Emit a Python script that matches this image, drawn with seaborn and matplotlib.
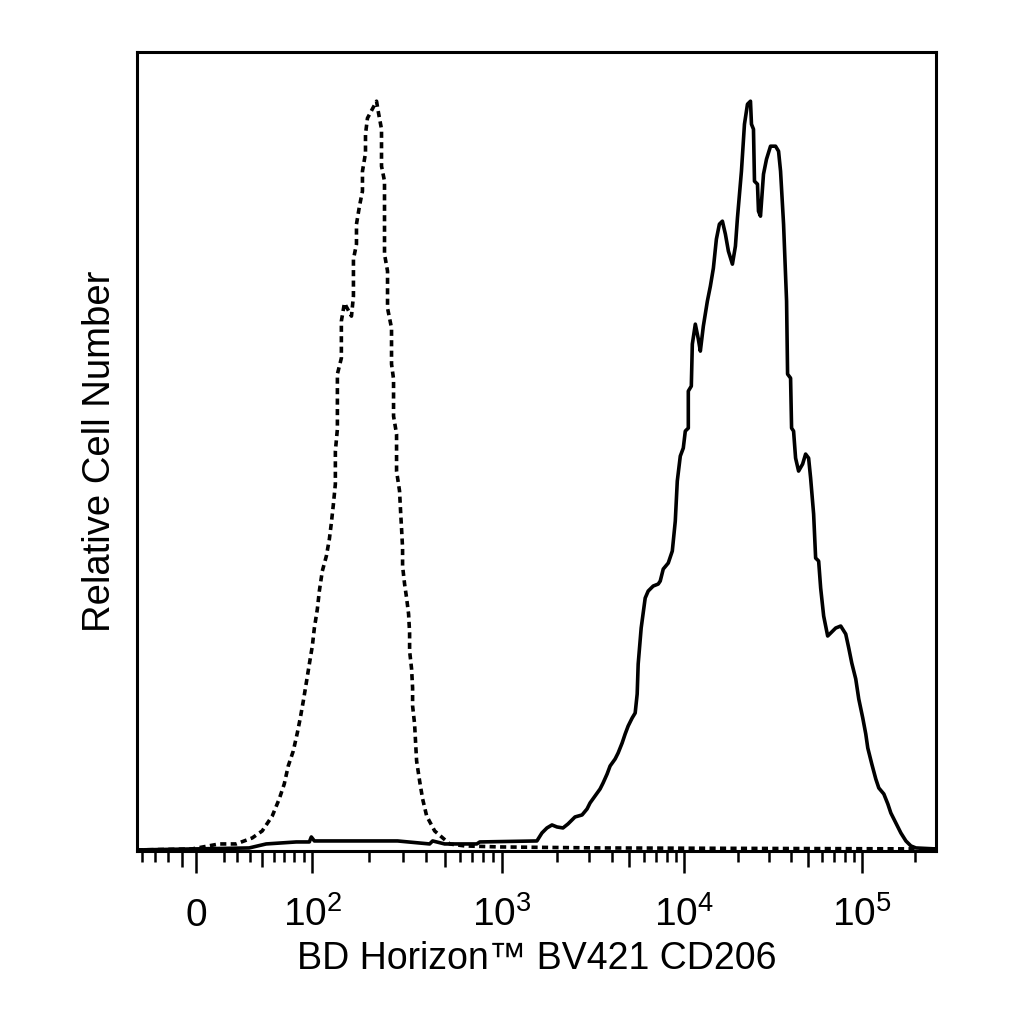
import numpy as np
import pandas as pd
import seaborn as sns
import matplotlib.pyplot as plt

# ---- data (intensity, relative count) ----
iso_x = [-44.1, -2.8, 16.5, 29.1, 41.7, 50.0, 58.8, 65.2, 70.0, 73.9, 79.0, 83.2, 86.4, 89.7,
         93.0, 96.5, 100, 102.5, 106.3, 108.9, 112.9, 118.6, 123.0, 126.0, 129.2, 132.3, 132.3,
         135.6, 135.6, 142.3, 142.3, 147.7, 160.9, 164.8, 164.8, 171.0, 171.0, 177.3, 183.9,
         183.9, 190.8, 190.8, 195.4, 218.2, 223.6, 231.8, 231.8, 240.4, 240.4, 249.4, 249.4,
         261.8, 261.8, 268.3, 268.3, 278.3, 278.3, 288.6, 292.2, 295.8, 299.4, 299.4, 306.8,
         314.4, 322.1, 326.1, 326.1, 334.1, 338.2, 338.2, 346.5, 350.8, 355.1, 368.3, 382.0,
         401.1, 442.2, 530.8, 637.2, 975.9, 3455, 262000]
iso_y = [1, 2, 7, 7, 13, 20, 35, 52, 67, 85, 100, 118, 133, 150,
         168, 187, 205, 223, 242, 260, 280, 295, 312, 328, 347, 367, 400,
         422, 477, 493, 530, 548, 535, 555, 592, 607, 627, 645, 660,
         680, 698, 717, 733, 750, 738, 722, 685, 670, 597, 580, 543,
         523, 487, 472, 435, 417, 380, 360, 340, 322, 303, 285, 267,
         253, 237, 218, 200, 182, 163, 145, 127, 108, 90, 70, 52,
         35, 20, 7, 5, 4, 3, 2]

cd206_x = [-44.1, -2.8, 39.2, 53.4, 82.1, 96.5, 98.8, 102.5, 281.7, 415.9, 431.4, 499.3, 737.6,
           764.9, 1557, 1659, 1767, 1883, 2005, 2163, 2304, 2518, 2752, 2931, 3044, 3243, 3455,
           3589, 3776, 3921, 4177, 4339, 4564, 4741, 4925, 5179, 5380, 5518, 5588, 5803, 6105,
           6341, 6754, 7197, 7381, 7667, 8167, 8595, 8925, 9153, 9507, 9874, 10131, 10534,
           10534, 10953, 11097, 11536, 11997, 12313, 12803, 13489, 14026, 14584, 15163, 15766,
           16393, 17044, 17722, 18668, 19411, 19924, 20989, 21827, 22697, 23600, 23906, 24536,
           24857, 25842, 26182, 26873, 27941, 29053, 30612, 32670, 33972, 34867, 36254, 37698,
           38193, 39707, 40227, 41285, 42372, 44058, 46416, 48254, 50177, 51500, 53550, 54963,
           57154, 58665, 61000, 64256, 66818, 71314, 76110, 81212, 84464, 87836, 92497, 96180,
           101300, 105340, 108110, 113880, 119960, 124740, 133140, 140250, 145810, 155640,
           166090, 177300, 189200, 201900, 262000]
cd206_y = [1, 2, 3, 7, 9, 9, 14, 10, 10, 7, 10, 7, 7,
           9, 10, 18, 23, 26, 24, 23, 27, 34, 36, 42, 48, 55, 62,
           68, 77, 85, 92, 98, 108, 117, 125, 133, 138, 157, 187, 223, 253,
           260, 265, 267, 270, 282, 288, 300, 330, 370, 395, 403, 420, 423,
           460, 465, 507, 527, 512, 500, 525, 550, 565, 583, 612, 627,
           630, 617, 600, 587, 605, 633, 680, 727, 747, 750, 727, 722,
           670, 667, 640, 635, 677, 692, 705, 705, 700, 680, 627, 550,
           477, 473, 423, 420, 393, 380, 387, 397, 393, 373, 337, 293,
           290, 263, 235, 215, 218, 223, 225, 217, 203, 188, 172, 152,
           133, 117, 103, 87, 72, 63, 57, 47, 38, 28,
           18, 10, 5, 3, 2]

major_ticks = [0, 1e2, 1e3, 1e4, 1e5]
major_labels = ['0', r'$\mathregular{10^2}$', r'$\mathregular{10^3}$',
                r'$\mathregular{10^4}$', r'$\mathregular{10^5}$']
minor_ticks = [-40, -30, -20, -10, 20, 30, 40, 50, 60, 70, 80, 90,
               200, 300, 400, 500, 600, 700, 800, 900,
               2000, 3000, 4000, 5000, 6000, 7000, 8000, 9000,
               20000, 30000, 40000, 50000, 60000, 70000, 80000, 90000, 200000]
mid_ticks = [-10, 50, 500, 5000, 50000]

# ---- biexponential-like display scale (linear-ish near 0, log above 100) ----
DEC_EXP = [2, 3, 4, 5, 6]
DEC_POS = [313, 502, 684, 861, 1038]

def fwd(x):
    x = np.asarray(x, dtype=float)
    lin = 197 + 105.6 * np.arcsinh(x / 75.0)
    lg = np.interp(np.log10(np.clip(x, 100, None)), DEC_EXP, DEC_POS)
    return np.where(x < 100, lin, lg)

def inv(p):
    p = np.asarray(p, dtype=float)
    lin = 75.0 * np.sinh((np.clip(p, -500, 313) - 197) / 105.6)
    lg = 10 ** np.interp(p, DEC_POS, DEC_EXP)
    return np.where(p < 313, lin, lg)

df = pd.concat([
    pd.DataFrame({'intensity': iso_x, 'count': iso_y, 'sample': 'Isotype'}),
    pd.DataFrame({'intensity': cd206_x, 'count': cd206_y, 'sample': 'CD206'}),
])

sns.set_theme(style='white')
plt.rcParams['font.family'] = ['Liberation Sans', 'DejaVu Sans']
plt.rcParams['mathtext.fontset'] = 'custom'
plt.rcParams['mathtext.rm'] = 'Liberation Sans'

fig = plt.figure(figsize=(10.24, 10.24), dpi=100)
ax = fig.add_axes([0.1338, 0.169, 0.7803, 0.780])
ax.set_xscale('function', functions=(fwd, inv))

sns.lineplot(data=df, x='intensity', y='count', style='sample',
             dashes={'Isotype': (1.7, 1.2), 'CD206': ''}, color='black',
             sort=False, estimator=None, linewidth=2.6, legend=False, ax=ax)
for ln in ax.lines:
    ln.set_linewidth(2.6)

ax.set_xlim(-44, 262144)
ax.set_ylim(0, 799)

for s in ax.spines.values():
    s.set_linewidth(2.2)
    s.set_color('black')

ax.set_yticks([])
ax.set_xticks(major_ticks)
ax.set_xticklabels(major_labels)
ax.set_xticks(minor_ticks, minor=True)
ax.tick_params(axis='x', which='major', direction='out', length=16, width=1.8,
               color='black', labelcolor='black', labelsize=28, pad=38, bottom=True)
ax.tick_params(axis='x', which='minor', direction='out', length=8, width=1.8,
               color='black', bottom=True)
for lab in ax.get_xticklabels():
    lab.set_va('baseline')
for loc, tk in zip(minor_ticks, ax.xaxis.get_minor_ticks(len(minor_ticks))):
    if loc in mid_ticks:
        tk.tick1line.set_markersize(11.5)

ax.set_xlabel('BD Horizon™ BV421 CD206', fontsize=27, labelpad=5, color='black')
ax.set_ylabel('Relative Cell Number', fontsize=27.5, labelpad=14, color='black')

fig.savefig('out.png', dpi=100)
